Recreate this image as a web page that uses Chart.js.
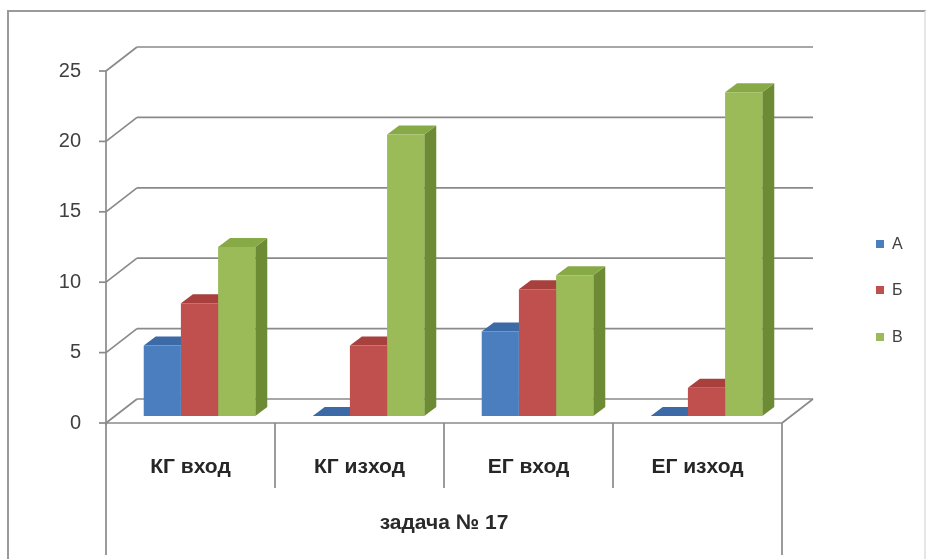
<!DOCTYPE html>
<html>
<head>
<meta charset="utf-8">
<script src="https://cdn.jsdelivr.net/npm/chart.js@4.4.1/dist/chart.umd.min.js"></script>
<style>
  html, body { margin: 0; padding: 0; background: #fff; }
  #wrap { position: relative; width: 928px; height: 559px; overflow: hidden; }
  #frame { position: absolute; left: 7px; top: 10px; width: 915px; height: 600px;
           border: 2px solid #9a9a9a; border-right-color: #e6e6e6; }
  canvas { position: absolute; left: 0; top: 0; }
</style>
</head>
<body>
<div id="wrap">
  <div id="frame"></div>
  <canvas id="chart" width="928" height="559"></canvas>
</div>
<script>
// Data
const categories = ['КГ вход', 'КГ изход', 'ЕГ вход', 'ЕГ изход'];
const seriesNames = ['А', 'Б', 'В'];
const valuesA = [5, 0, 6, 0];
const valuesB = [8, 5, 9, 2];
const valuesV = [12, 20, 10, 23];
const yTicks = [0, 5, 10, 15, 20, 25];
const axisTitle = 'задача № 17';

// Styling
const FONT = '"Liberation Sans", Arial, sans-serif';
const frontColors = ['#4a7ebf', '#c0504d', '#9bbb59'];
const sideColors  = ['#2f5a8e', '#8a3532', '#6c8b34'];
const topColors   = ['#3b6aa6', '#a8403d', '#88aa46'];
const GRID = '#8a8a8a';

// 3D offsets relative to the plane the bars stand in
const FRONT = { dx: -9, dy: 7 };    // front edge of the floor / value axis
const BACK  = { dx: 22, dy: -17 };  // back wall
const DEPTH = { dx: 12, dy: -9 };   // thickness of each bar

function seg(ctx, x1, y1, x2, y2) {
  ctx.beginPath(); ctx.moveTo(x1, y1); ctx.lineTo(x2, y2); ctx.stroke();
}
function poly(ctx, pts, color) {
  ctx.beginPath();
  ctx.moveTo(pts[0][0], pts[0][1]);
  for (let i = 1; i < pts.length; i++) ctx.lineTo(pts[i][0], pts[i][1]);
  ctx.closePath();
  ctx.fillStyle = color; ctx.fill();
}

const box3d = {
  id: 'box3d',
  beforeDatasetsDraw(chart) {
    const { ctx, chartArea: a, scales: { x, y } } = chart;
    ctx.save();
    ctx.strokeStyle = GRID;
    ctx.lineWidth = 1.7;
    const fx = a.left + FRONT.dx, bx = a.left + BACK.dx;
    const yTop = y.getPixelForValue(yTicks[yTicks.length - 1]);
    const y0 = y.getPixelForValue(0);

    // back wall gridlines, side-wall diagonals and tick marks
    yTicks.forEach(v => {
      const p = y.getPixelForValue(v);
      seg(ctx, fx - 7, p + FRONT.dy, fx, p + FRONT.dy);
      seg(ctx, fx, p + FRONT.dy, bx, p + BACK.dy);
      seg(ctx, bx, p + BACK.dy, a.right + BACK.dx, p + BACK.dy);
    });
    // value axis
    seg(ctx, fx, yTop + FRONT.dy, fx, y0 + FRONT.dy + 2);
    // floor front and right edges
    seg(ctx, fx, y0 + FRONT.dy, a.right + FRONT.dx, y0 + FRONT.dy);
    seg(ctx, a.right + FRONT.dx, y0 + FRONT.dy, a.right + BACK.dx, y0 + BACK.dy);

    // category dividers below the floor
    for (let i = 0; i <= categories.length; i++) {
      const px = x.getPixelForValue(i - 0.5) + FRONT.dx;
      const outer = (i === 0 || i === categories.length);
      seg(ctx, px, y0 + FRONT.dy, px, y0 + FRONT.dy + (outer ? 132 : 65));
    }

    // side and top faces of the bars
    chart.data.datasets.forEach((ds, di) => {
      const meta = chart.getDatasetMeta(di);
      meta.data.forEach(el => {
        const l = el.x - el.width / 2, r = el.x + el.width / 2;
        const t = el.y, b = el.base;
        poly(ctx, [[r, t], [r + DEPTH.dx, t + DEPTH.dy], [r + DEPTH.dx, b + DEPTH.dy], [r, b]], sideColors[di]);
        poly(ctx, [[l, t], [l + DEPTH.dx, t + DEPTH.dy], [r + DEPTH.dx, t + DEPTH.dy], [r, t]], topColors[di]);
      });
    });
    ctx.restore();
  },
  afterDraw(chart) {
    const { ctx, chartArea: a } = chart;
    ctx.save();
    // axis title, centred under the front edge of the floor
    ctx.fillStyle = '#2a2a2a';
    ctx.font = 'bold 21px ' + FONT;
    ctx.textAlign = 'center';
    ctx.textBaseline = 'middle';
    ctx.fillText(axisTitle, (a.left + a.right) / 2 + FRONT.dx, 523);

    // legend
    ctx.textAlign = 'left';
    const lx = 876, ly = [244, 290, 337];
    seriesNames.forEach((n, i) => {
      ctx.fillStyle = frontColors[i];
      ctx.fillRect(lx, ly[i] - 4, 8, 8);
      ctx.fillStyle = '#404040';
      ctx.font = '16px ' + FONT;
      ctx.fillText(n, lx + 16, ly[i] + 1);
    });
    ctx.restore();
  }
};

new Chart(document.getElementById('chart'), {
  type: 'bar',
  data: {
    labels: categories,
    datasets: [
      { label: seriesNames[0], data: valuesA, backgroundColor: frontColors[0] },
      { label: seriesNames[1], data: valuesB, backgroundColor: frontColors[1] },
      { label: seriesNames[2], data: valuesV, backgroundColor: frontColors[2] }
    ]
  },
  options: {
    responsive: false,
    animation: false,
    layout: { padding: { left: 0, top: 64, right: 137, bottom: 0 } },
    datasets: { bar: { categoryPercentage: 0.66, barPercentage: 1, borderWidth: 0 } },
    plugins: { legend: { display: false }, tooltip: { enabled: false } },
    scales: {
      x: {
        grid: { display: false }, border: { display: false },
        ticks: { font: { family: FONT, size: 21, weight: 'bold' }, color: '#262626', padding: 31, labelOffset: FRONT.dx },
        afterFit(s) { s.height = 143; }
      },
      y: {
        min: 0, max: 25,
        grid: { display: false }, border: { display: false },
        afterBuildTicks(s) { s.ticks = yTicks.map(v => ({ value: v })); },
        ticks: { font: { family: FONT, size: 20 }, color: '#404040', padding: 26, labelOffset: FRONT.dy },
        afterFit(s) { s.width = 115; }
      }
    }
  },
  plugins: [box3d]
});
</script>
</body>
</html>
